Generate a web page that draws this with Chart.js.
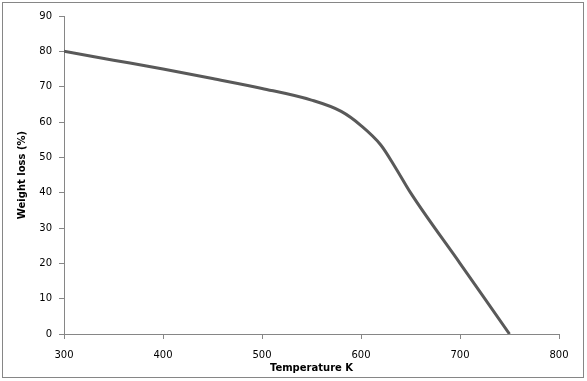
<!DOCTYPE html>
<html><head><meta charset="utf-8">
<script src="https://cdn.jsdelivr.net/npm/chart.js@4/dist/chart.umd.min.js"></script>
<style>html,body{margin:0;padding:0;background:#fff}#wrap{width:587px;height:381px;position:relative}</style>
</head><body><div id="wrap"><canvas id="c" width="587" height="381"></canvas></div>
<script>
const temperatures = [300, 350, 400, 450, 500, 550, 580, 600, 620, 635, 650, 700, 750];
const weightLoss   = [80, 77.5, 75, 72.3, 69.5, 66.2, 63, 59, 53.5, 47, 40, 20, 0];
const xTitle = 'Temperature K';
const yTitle = 'Weight loss (%)';

const border = {
  id: 'border',
  afterDraw(chart) {
    const ctx = chart.ctx;
    ctx.save();
    ctx.strokeStyle = '#868686';
    ctx.lineWidth = 1;
    ctx.strokeRect(2.5, 2.5, 581, 375);
    ctx.restore();
  }
};

new Chart(document.getElementById('c'), {
  type: 'line',
  data: {
    datasets: [{
      data: temperatures.map((t, i) => ({x: t, y: weightLoss[i]})),
      borderColor: '#595959',
      borderWidth: 3,
      pointRadius: 0,
      cubicInterpolationMode: 'monotone',
      fill: false
    }]
  },
  options: {
    responsive: false,
    animation: false,
    layout: {padding: {left: 16, top: 16, right: 28, bottom: 7}},
    plugins: {legend: {display: false}, tooltip: {enabled: false}},
    scales: {
      x: {
        type: 'linear', min: 300, max: 800,
        afterFit(s) { s.height = 40; },
        ticks: {stepSize: 100, color: '#000', font: {family: 'DejaVu Sans', size: 10}, padding: 10},
        grid: {drawOnChartArea: false, color: '#868686', tickLength: 5},
        border: {color: '#868686'},
        title: {display: true, text: xTitle, color: '#000', font: {family: 'DejaVu Sans', size: 10, weight: 'bold'}, padding: {top: 0, bottom: 0}}
      },
      y: {
        min: 0, max: 90,
        afterFit(s) { s.width = 48; },
        ticks: {stepSize: 10, color: '#000', font: {family: 'DejaVu Sans', size: 10}, padding: 7},
        grid: {drawOnChartArea: false, color: '#868686', tickLength: 5},
        border: {color: '#868686'},
        title: {display: true, text: yTitle, color: '#000', font: {family: 'DejaVu Sans', size: 10, weight: 'bold'}, padding: {top: 0, bottom: 0}}
      }
    }
  },
  plugins: [border]
});
</script></body></html>
